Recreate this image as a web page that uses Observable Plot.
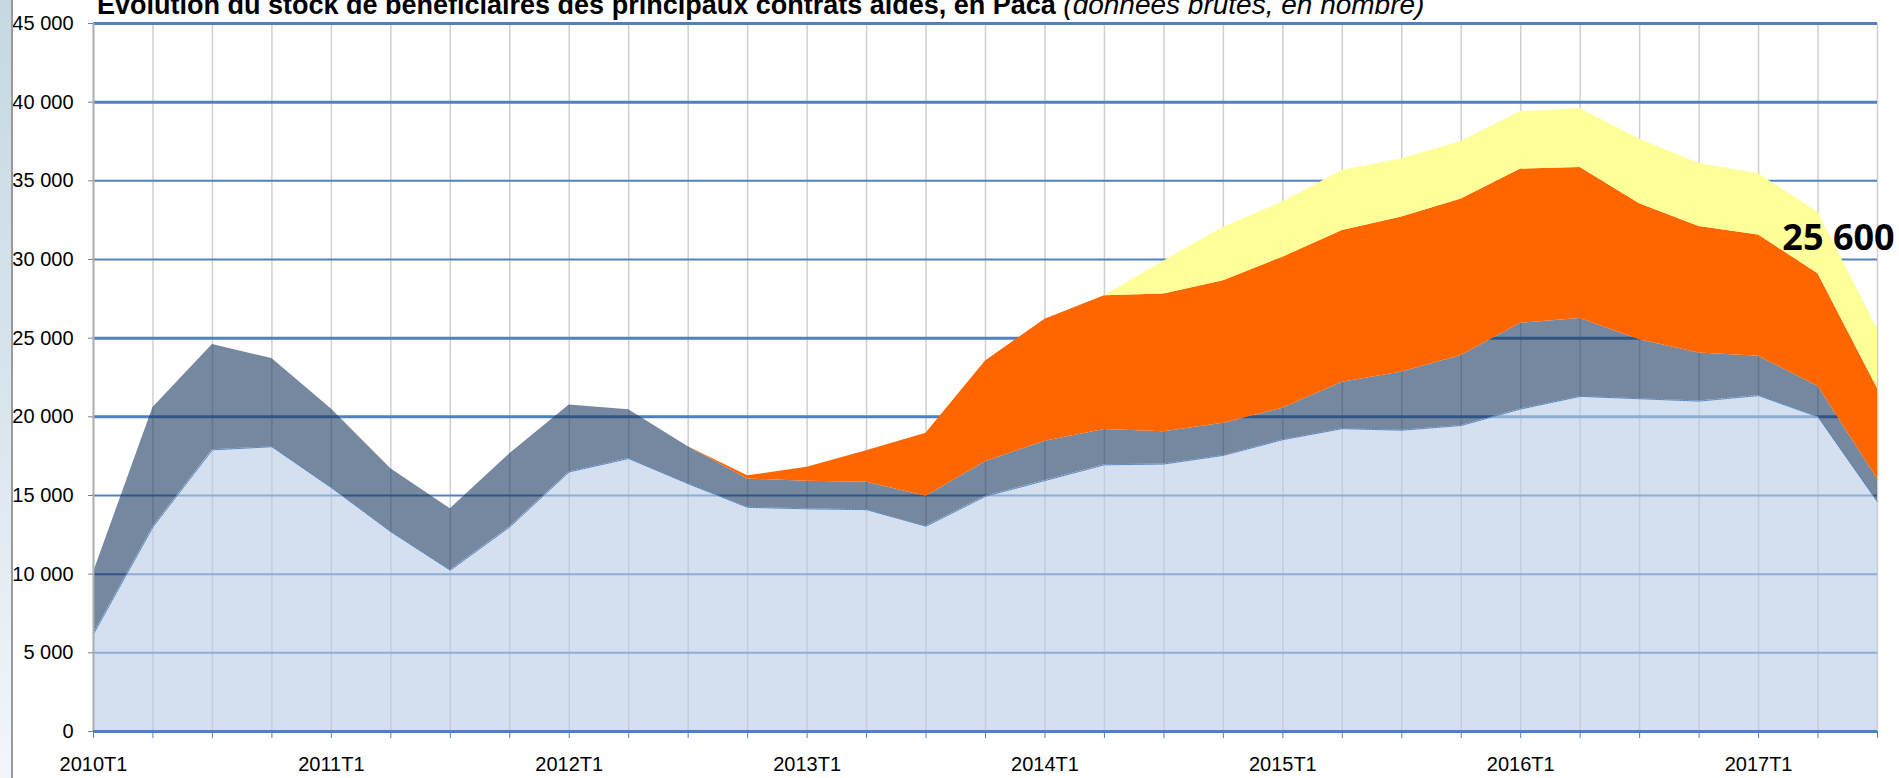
<!DOCTYPE html>
<html>
<head>
<meta charset="utf-8">
<script src="https://cdn.jsdelivr.net/npm/d3@7"></script>
<script src="https://cdn.jsdelivr.net/npm/@observablehq/plot@0.6"></script>
<style>
  html, body { margin: 0; padding: 0; background: #fff; }
  #wrap { position: relative; width: 1899px; height: 778px; overflow: hidden; }
  #strip { position: absolute; left: 0; top: 0; width: 11px; height: 778px;
    background: linear-gradient(#c6d8e2, #dbe6ee 55%, #f3f6f9);
    border-right: 2px solid #9a9a9a; }
  #title { position: absolute; left: 97px; top: -9px; white-space: nowrap;
    font-family: "Liberation Sans", Arial, sans-serif; font-size: 27px; line-height: 27px;
    font-weight: bold; color: #000; }
  #title span { font-weight: normal; font-style: italic; font-size: 28px; }
  #chart { position: absolute; left: 0; top: 0; }
</style>
</head>
<body>
<div id="wrap">
  <div id="chart"></div>
  <div id="strip"></div>
  <div id="title">Evolution du stock de bénéficiaires des principaux contrats aidés, en Paca <span>(données brutes, en nombre)</span></div>
</div>
<script>
const quarters = [
  "2010T1","2010T2","2010T3","2010T4",
  "2011T1","2011T2","2011T3","2011T4",
  "2012T1","2012T2","2012T3","2012T4",
  "2013T1","2013T2","2013T3","2013T4",
  "2014T1","2014T2","2014T3","2014T4",
  "2015T1","2015T2","2015T3","2015T4",
  "2016T1","2016T2","2016T3","2016T4",
  "2017T1","2017T2","2017T3"
];
const yTicks = [0, 5000, 10000, 15000, 20000, 25000, 30000, 35000, 40000, 45000];
const seriesNames = ["CUI-CAE", "CUI-CIE", "Emplois d'avenir", "IAE"];

// stock per series (bottom to top)
const cae = [6200,13000,17900,18100,15500,12700,10250,13000,16500,17350,15750,14250,14150,14100,13050,14950,15950,16950,17000,17550,18550,19250,19150,19450,20500,21300,21150,21000,21350,20000,14600];
const cie = [3900,7600,6700,5600,5000,4000,3900,4650,4250,3100,2350,1800,1750,1750,1900,2200,2500,2250,2050,2050,2000,2950,3700,4450,5450,4950,3750,3050,2500,1950,1450];
const ead = [0,0,0,0,0,0,0,0,0,0,0,200,900,2000,4000,6400,7750,8500,8750,9050,9600,9650,9850,9950,9800,9600,8650,8050,7700,7150,5750];
const iae = [0,0,0,0,0,0,0,0,0,0,0,0,0,0,0,0,0,0,2100,3400,3500,3800,3700,3650,3650,3750,4100,4000,3900,3900,3800];

const seriesValues = [cae, cie, ead, iae];
const seriesFills = ["rgba(184,204,229,0.6)", "rgba(25,57,97,0.6)", "#FF6600", "#FFFF99"];

const rows = seriesNames.flatMap((s, k) =>
  seriesValues[k].map((v, i) => ({series: s, i, value: v})));
const idx = quarters.map((q, i) => i);
const total = idx.map(i => seriesValues.reduce((acc, arr) => acc + arr[i], 0));
const fmt = v => d3.format(",")(v).replace(/,/g, " ");
const thick = [45000, 40000, 25000, 20000];

const plot = Plot.plot({
  width: 1899,
  height: 778,
  marginLeft: 93,
  marginRight: 22,
  marginTop: 23,
  marginBottom: 47,
  style: {fontFamily: "'Liberation Sans', Arial, sans-serif", background: "transparent", color: "#000"},
  x: {type: "linear", domain: [0, quarters.length - 1], label: null},
  y: {domain: [0, 45000], label: null},
  color: {domain: seriesNames, range: seriesFills},
  marks: [
    Plot.ruleX(idx, {stroke: "#cfcfcf", strokeWidth: 1.5}),
    Plot.ruleY(yTicks.filter(d => d > 0), {stroke: "#4F81BD", strokeWidth: d => thick.includes(d) ? 3 : 2}),
    Plot.areaY(rows, {x: "i", y: "value", z: "series", fill: "series"}),
    Plot.lineY(cae, {x: (d, i) => i, y: d => d, stroke: "#4F81BD", strokeWidth: 1, strokeDasharray: "2,1"}),
    Plot.ruleX([0], {stroke: "#b0b0b0", strokeWidth: 2}),
    Plot.ruleY([0], {stroke: "#4F81BD", strokeWidth: 3}),
    Plot.axisY(yTicks, {tickSize: 5, tickPadding: 15, stroke: "#808080", fill: "#000", fontSize: 20, tickFormat: fmt, label: null}),
    Plot.axisX(idx, {tickSize: 7, tickPadding: 18, stroke: "#4F81BD", fill: "#000", fontSize: 20,
      tickFormat: i => quarters[i].endsWith("T1") ? quarters[i] : "", label: null}),
    Plot.text([quarters.length - 1], {x: d => d, y: d => total[d], text: d => fmt(total[d]),
      dx: -39, dy: -90, fontSize: 36, fontWeight: "bold", fontFamily: "'Open Sans', sans-serif", fill: "#000"})
  ]
});
document.getElementById("chart").appendChild(plot);
</script>
</body>
</html>
